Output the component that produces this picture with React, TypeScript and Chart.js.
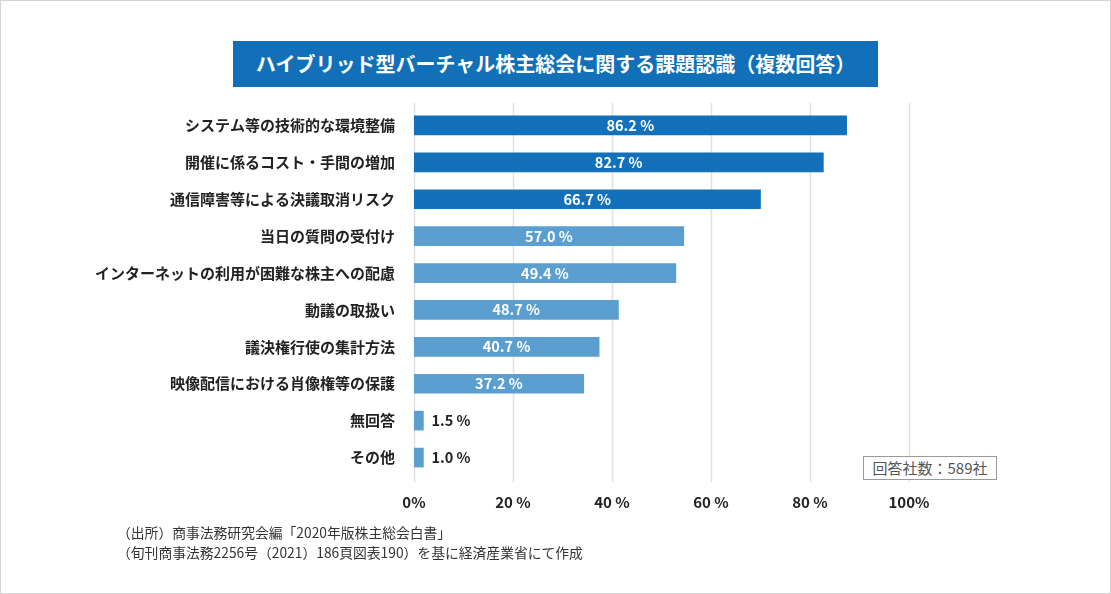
import React, { useEffect, useRef } from "react";
import { Chart, registerables } from "chart.js";

Chart.register(...registerables);

const categories = [
  "システム等の技術的な環境整備",
  "開催に係るコスト・手間の増加",
  "通信障害等による決議取消リスク",
  "当日の質問の受付け",
  "インターネットの利用が困難な株主への配慮",
  "動議の取扱い",
  "議決権行使の集計方法",
  "映像配信における肖像権等の保護",
  "無回答",
  "その他",
];

// bar lengths as drawn in the picture (percent)
const barValues = [87.4, 82.7, 70.0, 54.5, 52.9, 41.3, 37.4, 34.3, 1.9, 1.9];

// printed value labels
const valueLabels = ["86.2 %", "82.7 %", "66.7 %", "57.0 %", "49.4 %", "48.7 %", "40.7 %", "37.2 %", "1.5 %", "1.0 %"];

const highlighted = [true, true, true, false, false, false, false, false, false, false];

const xTickValues = [0, 20, 40, 60, 80, 100];
const xTickLabels = ["0%", "20 %", "40 %", "60 %", "80 %", "100%"];

const titleText = "ハイブリッド型バーチャル株主総会に関する課題認識（複数回答）";
const countText = "回答社数：589社";
const noteLines = [
  "（出所）商事法務研究会編「2020年版株主総会白書」",
  "（旬刊商事法務2256号（2021）186頁図表190）を基に経済産業省にて作成",
];

const FONT = "'Noto Sans CJK JP', 'Noto Sans', sans-serif";
const DARK = "#1271ba";
const LIGHT = "#5b9fd1";

export default function App() {
  const canvasRef = useRef<HTMLCanvasElement | null>(null);

  useEffect(() => {
    const canvas = canvasRef.current;
    if (!canvas) return;

    const gridPlugin = {
      id: "customGrid",
      beforeDatasetsDraw(chart: any) {
        const { ctx, chartArea, scales } = chart;
        const xs = scales.x;
        ctx.save();
        ctx.strokeStyle = "#e1e1e1";
        ctx.lineWidth = 1.5;
        xTickValues.forEach((v) => {
          const px = Math.round(xs.getPixelForValue(v)) + 0.5;
          ctx.beginPath();
          ctx.moveTo(px, chartArea.top - 4);
          ctx.lineTo(px, chartArea.bottom + 6);
          ctx.stroke();
        });
        ctx.restore();
      },
    };

    const labelPlugin = {
      id: "valueLabels",
      afterDatasetsDraw(chart: any) {
        const { ctx } = chart;
        const meta = chart.getDatasetMeta(0);
        ctx.save();
        ctx.font = `bold 14.5px ${FONT}`;
        ctx.textBaseline = "middle";
        meta.data.forEach((bar: any, i: number) => {
          const v = barValues[i];
          if (v > 10) {
            ctx.fillStyle = "#ffffff";
            ctx.textAlign = "center";
            ctx.fillText(valueLabels[i], (bar.base + bar.x) / 2, bar.y);
          } else {
            ctx.fillStyle = "#222222";
            ctx.textAlign = "left";
            ctx.fillText(valueLabels[i], bar.x + 8, bar.y);
          }
        });
        ctx.restore();
      },
    };

    const chart = new Chart(canvas, {
      type: "bar",
      data: {
        labels: categories,
        datasets: [
          {
            data: barValues,
            backgroundColor: highlighted.map((h) => (h ? DARK : LIGHT)),
            borderWidth: 0,
            barThickness: 19,
          },
        ],
      },
      options: {
        indexAxis: "y",
        responsive: false,
        animation: false,
        layout: { padding: { left: 0, right: 202, top: 107, bottom: 0 } },
        plugins: {
          legend: { display: false },
          tooltip: { enabled: false },
          title: { display: false },
        },
        scales: {
          x: {
            min: 0,
            max: 100,
            afterBuildTicks(scale: any) {
              scale.ticks = xTickValues.map((v) => ({ value: v }));
            },
            afterFit(scale: any) {
              scale.height = 118;
            },
            ticks: {
              padding: 17,
              color: "#222222",
              font: { family: FONT, size: 15, weight: "bold" },
              callback: (_v: any, i: number) => xTickLabels[i],
              maxRotation: 0,
              autoSkip: false,
            },
            grid: { display: false, drawTicks: false },
            border: { display: false },
          },
          y: {
            afterFit(scale: any) {
              scale.width = 414;
            },
            ticks: {
              padding: 19,
              color: "#222222",
              font: { family: FONT, size: 15, weight: "bold" },
              autoSkip: false,
            },
            grid: { display: false, drawTicks: false },
            border: { display: false },
          },
        },
      },
      plugins: [gridPlugin, labelPlugin],
    } as any);

    return () => chart.destroy();
  }, []);

  return (
    <div
      style={{
        position: "fixed",
        left: 0,
        top: 0,
        width: 1111,
        height: 594,
        background: "#ffffff",
        fontFamily: FONT,
        overflow: "hidden",
      }}
    >
      <canvas ref={canvasRef} width={1111} height={594} style={{ position: "absolute", left: 0, top: 0 }} />
      <div
        style={{
          position: "absolute",
          left: 233,
          top: 41,
          width: 645,
          height: 46,
          background: "#1170b8",
          color: "#ffffff",
          fontWeight: "bold",
          fontSize: 20,
          lineHeight: "46px",
          textAlign: "center",
          whiteSpace: "nowrap",
        }}
      >
        {titleText}
      </div>
      <div
        style={{
          position: "absolute",
          left: 863,
          top: 456,
          width: 134,
          height: 24,
          boxSizing: "border-box",
          border: "1px solid #9a9a9a",
          color: "#555555",
          fontSize: 15,
          lineHeight: "22px",
          textAlign: "center",
          whiteSpace: "nowrap",
          background: "#ffffff",
        }}
      >
        {countText}
      </div>
      <div
        style={{
          position: "absolute",
          left: 117,
          top: 522,
          color: "#333333",
          fontSize: 13.8,
          lineHeight: "20px",
          whiteSpace: "nowrap",
        }}
      >
        {noteLines.map((l, i) => (
          <div key={i}>{l}</div>
        ))}
      </div>
      <div
        style={{
          position: "absolute",
          left: 0,
          top: 0,
          width: 1111,
          height: 594,
          boxSizing: "border-box",
          border: "1px solid #d4d4d4",
          pointerEvents: "none",
        }}
      />
    </div>
  );
}
